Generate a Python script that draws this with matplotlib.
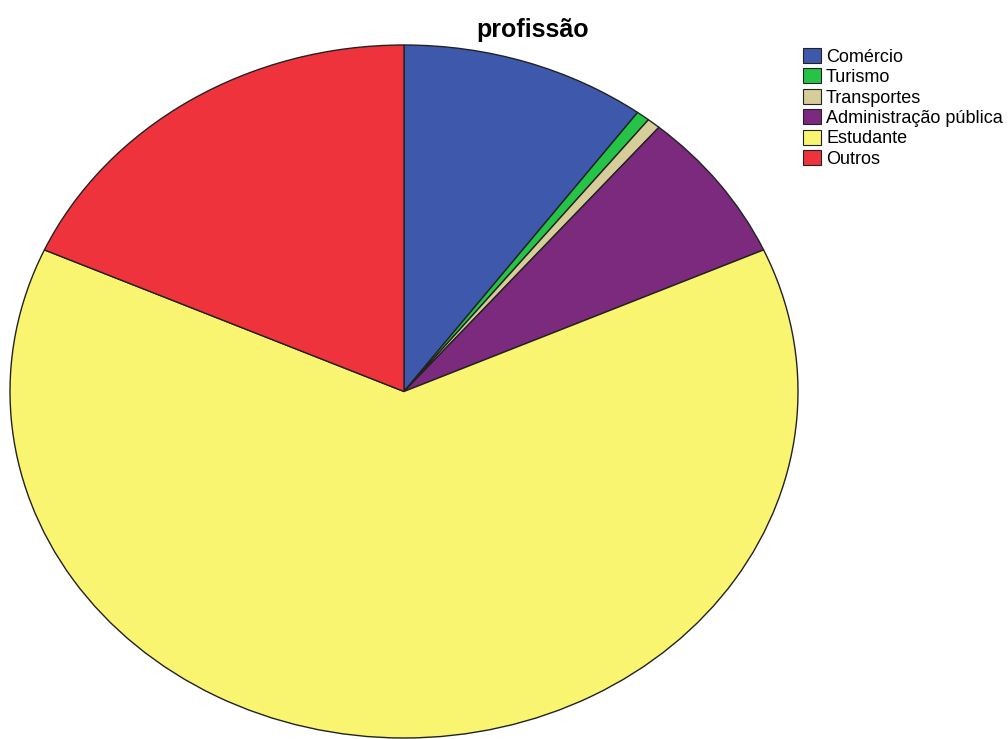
import matplotlib.pyplot as plt
from matplotlib.patches import Patch

plt.rcParams['font.family'] = ['Liberation Sans', 'DejaVu Sans']

# dados
categorias = ['Comércio', 'Turismo', 'Transportes', 'Administração pública', 'Estudante', 'Outros']
percentagens = [10.1, 0.55, 0.55, 7.1, 63.4, 18.3]
cores = ['#3e58ac', '#25c448', '#d6cd9a', '#7b2a7e', '#f9f570', '#ef333c']

fig = plt.figure(figsize=(10.08, 7.39), dpi=100)
W, H = 1008, 739

# eixo elíptico: a pizza preenche o eixo inteiro
ax = fig.add_axes([10 / W, 1 / H, 788 / W, 693 / H])
ax.pie(percentagens, colors=cores, startangle=90, counterclock=False,
       radius=1.0, wedgeprops=dict(edgecolor='#222222', linewidth=1.0))
ax.set_aspect('auto')
ax.set_xlim(-1, 1)
ax.set_ylim(-1, 1)
ax.axis('off')

fig.text(533 / W, 1 - 30 / H, 'profissão', ha='center', va='center',
         fontsize=18, fontweight='bold')

handles = [Patch(facecolor=c, edgecolor='#222222', linewidth=0.8) for c in cores]
fig.legend(handles, categorias, loc='upper left', bbox_to_anchor=(803 / W, 1 - 48 / H),
           frameon=False, fontsize=13, handlelength=1.0, handleheight=0.9,
           handletextpad=0.28, labelspacing=0.15, borderpad=0, borderaxespad=0)

plt.savefig('out.png', dpi=100)
